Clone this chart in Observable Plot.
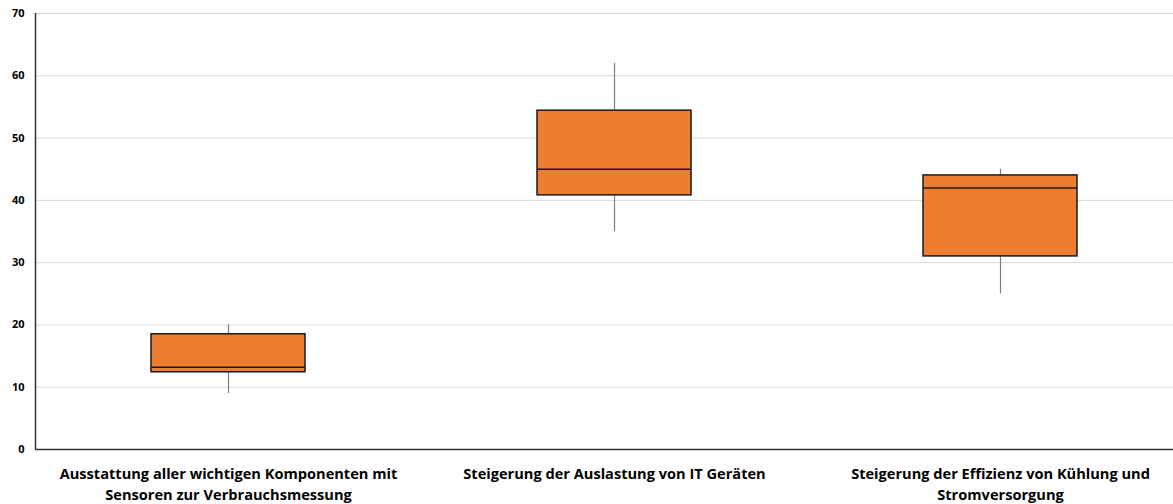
<!DOCTYPE html>
<html>
<head>
<meta charset="utf-8">
<script src="https://cdn.jsdelivr.net/npm/d3@7"></script>
<script src="https://cdn.jsdelivr.net/npm/@observablehq/plot@0.6"></script>
<style>
  html, body { margin: 0; padding: 0; background: #fff; }
  #chart svg { display: block; }
</style>
</head>
<body>
<div id="chart"></div>
<script>
// Measures (categories) and their box-plot statistics
const categories = [
  "Ausstattung aller wichtigen Komponenten mit Sensoren zur Verbrauchsmessung",
  "Steigerung der Auslastung von IT Geräten",
  "Steigerung der Effizienz von Kühlung und Stromversorgung"
];
const tickLabels = [
  "Ausstattung aller wichtigen Komponenten mit\nSensoren zur Verbrauchsmessung",
  "Steigerung der Auslastung von IT Geräten",
  "Steigerung der Effizienz von Kühlung und\nStromversorgung"
];
const minValues    = [9, 35, 25];
const q1Values     = [12.4, 40.8, 31];
const medianValues = [13.2, 45, 42];
const q3Values     = [18.5, 54.4, 44];
const maxValues    = [20, 62, 45];
const yTicks = [0, 10, 20, 30, 40, 50, 60, 70];

const rows = categories.map((c, i) => ({
  category: c,
  min: minValues[i],
  q1: q1Values[i],
  median: medianValues[i],
  q3: q3Values[i],
  max: maxValues[i]
}));
const labelOf = new Map(categories.map((c, i) => [c, tickLabels[i]]));

const boxInset = 116;

const chart = Plot.plot({
  width: 1173,
  height: 504,
  marginLeft: 35,
  marginRight: 0,
  marginTop: 13,
  marginBottom: 55,
  style: { fontFamily: "'Open Sans', sans-serif", background: "#fff" },
  x: { domain: categories, range: [35, 1193], padding: 0, axis: null },
  y: { domain: [0, 70], ticks: yTicks, axis: null },
  marks: [
    // horizontal gridlines
    Plot.ruleY(yTicks.filter(t => t > 0), { stroke: "#d9d9d9", strokeWidth: 1 }),
    // y tick labels
    Plot.axisY({
      ticks: yTicks,
      tickSize: 0,
      tickPadding: 11,
      fontWeight: "bold",
      fontSize: 11,
      fill: "#000",
      label: null
    }),
    // x tick labels
    Plot.axisX({
      tickSize: 0,
      tickPadding: 14,
      tickFormat: d => labelOf.get(d),
      fontWeight: "bold",
      fontSize: 14.6,
      lineHeight: 1.45,
      fill: "#000",
      label: null
    }),
    // whiskers
    Plot.ruleX(rows, { x: "category", y1: "min", y2: "q1", stroke: "#7f7f7f", strokeWidth: 1.2 }),
    Plot.ruleX(rows, { x: "category", y1: "q3", y2: "max", stroke: "#7f7f7f", strokeWidth: 1.2 }),
    // boxes
    Plot.barY(rows, {
      x: "category", y1: "q1", y2: "q3",
      fill: "#ED7D31", stroke: "#1a1a1a", strokeWidth: 1.5,
      insetLeft: boxInset, insetRight: boxInset
    }),
    // medians
    Plot.tickY(rows, {
      x: "category", y: "median",
      stroke: "#1a1a1a", strokeWidth: 1.5,
      insetLeft: boxInset, insetRight: boxInset
    }),
    // axis lines
    Plot.ruleY([0], { stroke: "#333", strokeWidth: 1.5 }),
    Plot.ruleX([0], { x: () => categories[0], dx: -193, y1: 0, y2: 70, stroke: "#333", strokeWidth: 1.5 })
  ]
});

document.getElementById("chart").appendChild(chart);
</script>
</body>
</html>
